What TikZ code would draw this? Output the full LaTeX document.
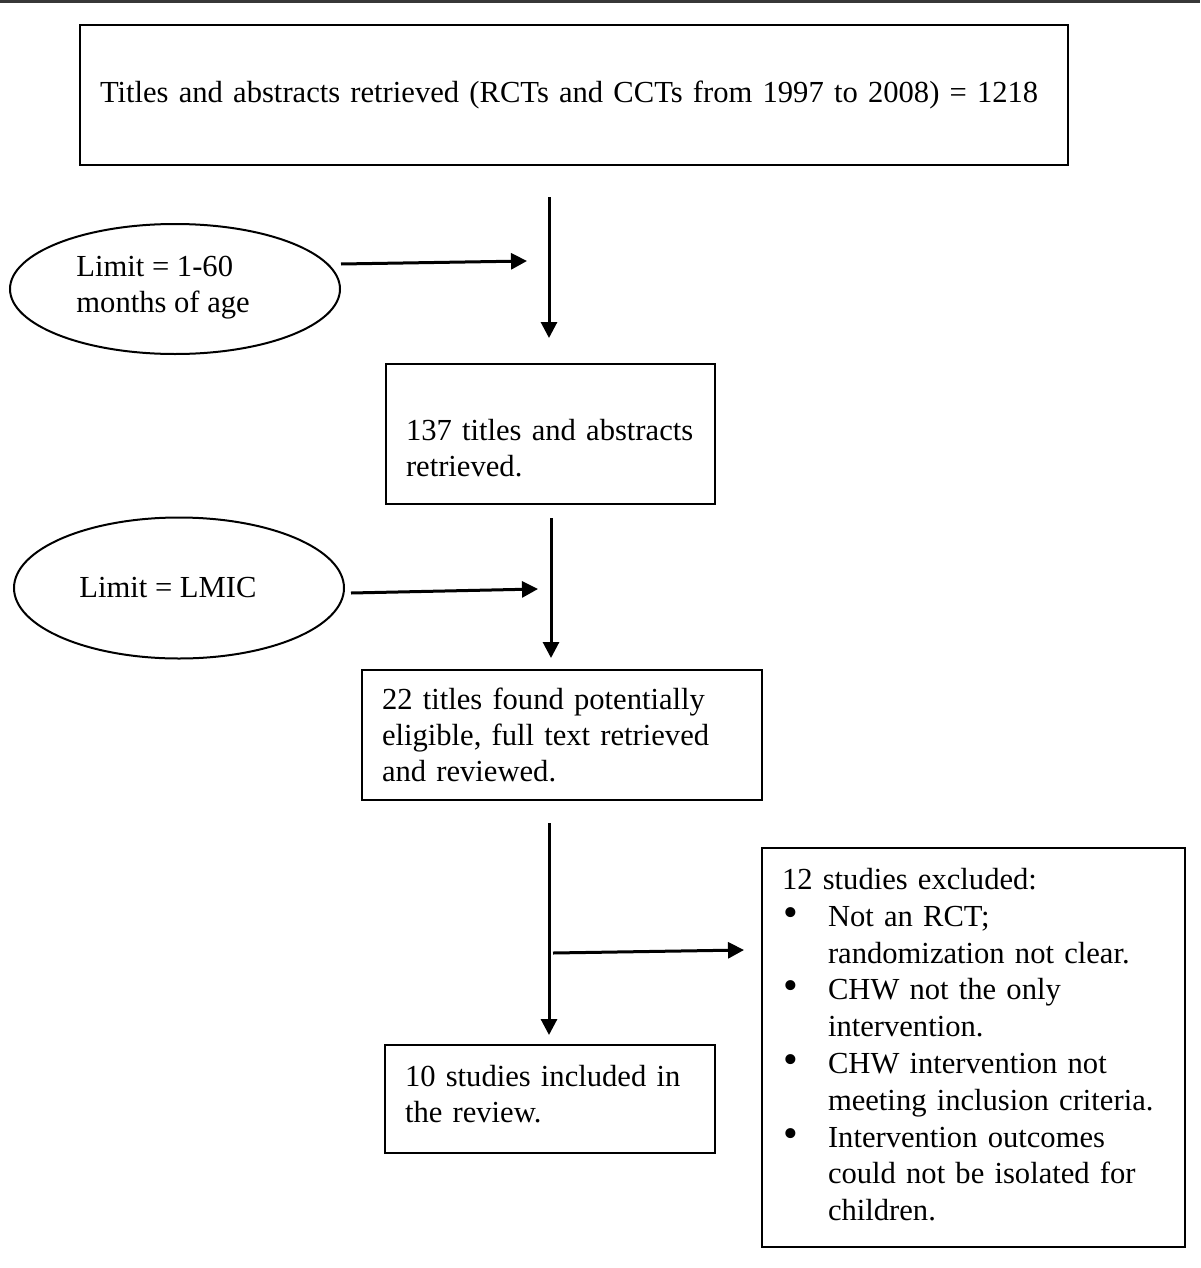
\documentclass[tikz,border=0pt]{standalone}
\usepackage{fontspec}
\setmainfont{Liberation Serif}
\usetikzlibrary{shapes.geometric,arrows.meta}

\newcommand{\exbullet}{\makebox[23pt][l]{\hspace{0.5pt}{\fontsize{21}{18}\selectfont\textbullet}}}
\newcommand{\exindent}{\hspace*{23pt}}
% invisible struts that push the text of a box down (top) or up (bottom)
\newcommand{\padtop}[1]{\rule{0pt}{#1}}
\newcommand{\padbottom}[1]{\rule[-#1]{0pt}{#1}}

\begin{document}
\begin{tikzpicture}[x=0.5pt, y=-0.5pt,
    box/.style={draw, line width=1.2pt, rectangle, align=left, inner xsep=10pt, inner ysep=0pt,
        font=\fontsize{15.3}{18}\selectfont},
    limit/.style={draw, line width=1pt, ellipse, inner sep=0pt, minimum width=165pt},
    limitText/.style={align=left, inner sep=0pt, anchor=west, font=\fontsize{15.3}{18}\selectfont},
    flow/.style={line width=1.5pt, -{Triangle[length=8pt, width=8pt]}}]

    \useasboundingbox (0,0) rectangle (1200,1268);

    % Top rule
    \fill[black!78] (0,0) rectangle (1200,3);

    % Boxes
    \node[box, text width=474pt,   minimum height=70pt]    (titles)   at (574,95)      {Titles and abstracts retrieved (RCTs and CCTs from 1997 to 2008) = 1218};
    \node[box, text width=144.5pt, minimum height=70pt]    (limited)  at (550.5,434)   {\padtop{24.5pt}137 titles and abstracts\\ retrieved.};
    \node[box, text width=180pt,   minimum height=65pt]    (eligible) at (562,735)     {22 titles found potentially\\ eligible, full text retrieved\\ and reviewed.};
    \node[box, text width=145pt,   minimum height=54pt]    (included) at (550,1099)    {10 studies included in\\ the review.\padbottom{5pt}};
    \node[box, text width=191.5pt, minimum height=199.5pt, font=\fontsize{15.3}{18.4}\selectfont]
        (excluded) at (973.5,1047.5) {12 studies excluded:\\
        \exbullet Not an RCT;\\ \exindent randomization not clear.\\
        \exbullet CHW not the only\\ \exindent intervention.\\
        \exbullet CHW intervention not\\ \exindent meeting inclusion criteria.\\
        \exbullet Intervention outcomes\\ \exindent could not be isolated for\\ \exindent children.\padbottom{3pt}};

    % Limits
    \node[limit, minimum height=65pt]   (ageLimit)  at (175,289) {};
    \node[limit, minimum height=70.5pt] (lmicLimit) at (179,588) {};
    \node[limitText] (ageText)  at ([xshift=33.5pt, yshift=0.5pt]ageLimit.west) {Limit = 1-60\\ months of age};
    \node[limitText] (lmicText) at ([xshift=33pt]lmicLimit.west) {Limit = LMIC};

    % Free ends of the connectors
    \coordinate (v1a) at (549,197);  \coordinate (v1b) at (549,338);
    \coordinate (h1)  at (527,261);
    \coordinate (v2a) at (551,518);  \coordinate (v2b) at (551,658);
    \coordinate (h2)  at (538,589);
    \coordinate (v3a) at (549,823);  \coordinate (v3b) at (549,1035);
    \coordinate (h3a) at (553,953);  \coordinate (h3b) at (744,950);

    % Arrows
    \draw[flow] (v1a) -- (v1b);
    \draw[flow] ([yshift=12.5pt]ageLimit.east) -- (h1);
    \draw[flow] (v2a) -- (v2b);
    \draw[flow] ([xshift=3pt, yshift=-2.5pt]lmicLimit.east) -- (h2);
    \draw[flow] (v3a) -- (v3b);
    \draw[flow] (h3a) -- (h3b);

\end{tikzpicture}
\end{document}
